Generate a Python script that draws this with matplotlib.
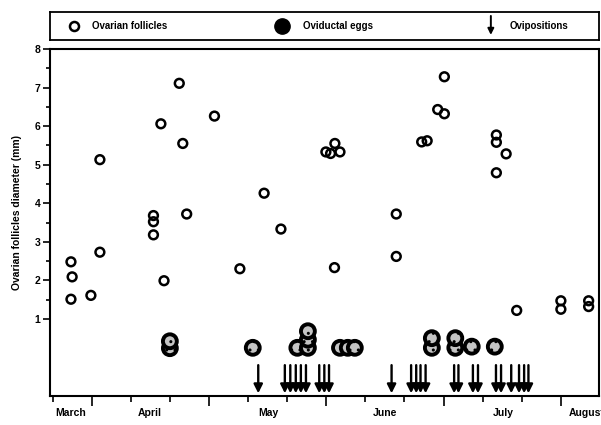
import matplotlib

matplotlib.use("Agg")
import matplotlib.pyplot as plt  # noqa: E402
from matplotlib.lines import Line2D  # noqa: E402
from matplotlib.ticker import MultipleLocator, FixedLocator  # noqa: E402
import matplotlib.transforms as mtransforms  # noqa: E402

plt.rcParams["font.family"] = ["Liberation Sans", "DejaVu Sans"]
plt.rcParams["font.weight"] = "bold"

# days counted from early March
follicle_day = [4.7, 5.0, 4.7, 9.8, 12.1, 12.1,
                25.8, 25.8, 25.8, 27.7, 28.5, 32.4, 33.3, 34.3, 41.4,
                47.9, 54.1, 58.4,
                69.9, 71.1, 72.2, 73.5, 72.1,
                87.9, 87.9, 94.4, 95.8, 98.5, 100.2, 100.2,
                113.5, 113.5, 113.5, 116.0, 118.7,
                130.0, 130.0, 137.1, 137.1]
follicle_mm = [2.48, 2.09, 1.51, 1.61, 2.73, 5.13,
               3.68, 3.52, 3.18, 6.06, 1.99, 7.11, 5.55, 3.72, 6.26,
               2.30, 4.26, 3.33,
               5.33, 5.29, 5.55, 5.33, 2.33,
               3.72, 2.62, 5.59, 5.62, 6.43, 7.28, 6.32,
               5.77, 5.58, 4.79, 5.28, 1.22,
               1.47, 1.25, 1.47, 1.32]

egg_day = [30.0, 30.0, 51.2, 62.6, 65.3, 65.3, 65.3,
           73.5, 75.5, 77.3,
           97.0, 97.0, 103.0, 103.0, 107.2, 113.1]
egg_y = [0.24, 0.42, 0.25, 0.25, 0.25, 0.46, 0.68,
         0.25, 0.25, 0.25,
         0.25, 0.50, 0.25, 0.50, 0.28, 0.28]

ovip_day = [52.6, 59.4, 60.8, 62.2, 63.5, 64.8, 68.2, 69.5, 70.7,
            86.7, 91.7, 93.0, 94.1, 95.4,
            102.7, 103.8, 107.5, 108.8, 113.4, 114.7, 117.3, 119.3, 120.6, 121.7]

months = ["March", "April", "May", "June", "July", "August"]
month_day = [0.6, 21.8, 52.5, 82.0, 112.6, 132.0]

fig = plt.figure(figsize=(6.01, 4.25), dpi=100)
ax = fig.add_axes([50 / 601, 29 / 425, 549 / 601, 347 / 425])

ax.scatter(follicle_day, follicle_mm, s=40, facecolors="none",
           edgecolors="black", linewidths=1.8, zorder=3)

plt.rcParams["hatch.linewidth"] = 1.0
ax.scatter(egg_day, egg_y, s=100, facecolors="#c4c4c4", edgecolors="black",
           linewidths=2.8, hatch="..", zorder=4)

for d in ovip_day:
    ax.annotate("", xy=(d, -0.93), xytext=(d, -0.2),
                arrowprops=dict(arrowstyle="-|>", color="black", lw=1.7,
                                mutation_scale=13, shrinkA=0, shrinkB=0))

ax.set_xlim(-0.66, 139.75)
ax.set_ylim(-1.0, 8.0)

ax.yaxis.set_major_locator(FixedLocator([1, 2, 3, 4, 5, 6, 7, 8]))
ax.yaxis.set_minor_locator(FixedLocator([1.5, 2.5, 3.5, 4.5, 5.5, 6.5, 7.5]))
ax.xaxis.set_major_locator(FixedLocator([10, 40, 70, 100, 130]))
ax.xaxis.set_minor_locator(MultipleLocator(10))
ax.set_xticklabels([])
ax.tick_params(axis="y", which="major", length=5, width=1.2, labelsize=7.5, pad=2)
ax.tick_params(axis="y", which="minor", length=3, width=1.2)
ax.tick_params(axis="x", which="major", length=7, width=1.2)
ax.tick_params(axis="x", which="minor", length=4, width=1.2)
for lab in ax.get_yticklabels():
    lab.set_fontweight("bold")
for sp in ax.spines.values():
    sp.set_linewidth(1.5)

trans = mtransforms.blended_transform_factory(ax.transData, ax.transAxes)
for name, d in zip(months, month_day):
    ax.text(d, -0.05, name, transform=trans, ha="left", va="center",
            fontsize=7.5, fontweight="bold", clip_on=False)

fig.text(17 / 601, 1 - 213 / 425, "Ovarian follicles diameter (mm)",
         rotation=90, ha="center", va="center", fontsize=7.5, fontweight="bold")

# legend box
lax = fig.add_axes([50 / 601, (425 - 40) / 425, 549 / 601, 28.3 / 425])
lax.set_xlim(0, 1)
lax.set_ylim(0, 1)
lax.set_xticks([])
lax.set_yticks([])
for sp in lax.spines.values():
    sp.set_linewidth(1.3)
lax.add_line(Line2D([0.044], [0.5], marker="o", markersize=6.5,
                    markerfacecolor="none", markeredgecolor="black",
                    markeredgewidth=1.8))
lax.text(0.076, 0.5, "Ovarian follicles", ha="left", va="center",
         fontsize=7, fontweight="bold")
lax.add_line(Line2D([0.423], [0.5], marker="o", markersize=11,
                    markerfacecolor="black", markeredgecolor="black"))
lax.text(0.460, 0.5, "Oviductal eggs", ha="left", va="center",
         fontsize=7, fontweight="bold")
lax.annotate("", xy=(0.803, 0.18), xytext=(0.803, 0.85),
             arrowprops=dict(arrowstyle="-|>", color="black", lw=1.4,
                             mutation_scale=9, shrinkA=0, shrinkB=0))
lax.text(0.838, 0.5, "Ovipositions", ha="left", va="center",
         fontsize=7, fontweight="bold")

fig.savefig("out.png", dpi=100)
